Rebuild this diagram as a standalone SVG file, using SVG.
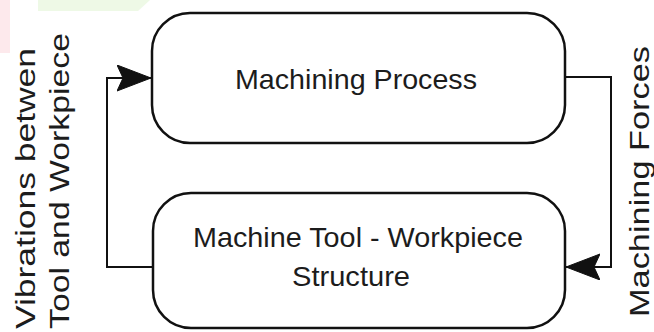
<svg xmlns="http://www.w3.org/2000/svg" width="654" height="332" viewBox="0 0 654 332">
<style>
.box{fill:#fff;stroke:#111;stroke-width:2.5}
.lbl{font-family:"Liberation Sans",Arial,sans-serif;font-size:28.5px;fill:#1c1c1c;text-anchor:middle}
.side{font-family:"Liberation Sans",Arial,sans-serif;font-size:27px;fill:#1c1c1c}
.conn{fill:none;stroke:#111;stroke-width:2}
</style>
<defs>
<marker id="arr" markerUnits="userSpaceOnUse" markerWidth="36" markerHeight="28" refX="34" refY="13" orient="auto" viewBox="0 0 36 28">
<path d="M0,0 L34,13 L0,26 L6,13 Z" fill="#111" stroke="#111" stroke-width="1" stroke-linejoin="round"/>
</marker>
</defs>
<rect width="654" height="332" fill="#fff"/>
<rect x="0" y="0" width="10" height="53" fill="#fde9ec"/>
<polygon points="38,0 150,0 138,11 38,11" fill="#eef9e6"/>
<g id="connectors">
<path class="conn" d="M153,267 H107 V78 H151" marker-end="url(#arr)"/>
<path class="conn" d="M565,77 H611 V267 H566" marker-end="url(#arr)"/>
</g>
<g id="machining-process">
<rect class="box" x="152" y="13" width="413" height="130" rx="38" ry="38"/>
<text class="lbl" x="356" y="89" textLength="242" lengthAdjust="spacingAndGlyphs">Machining Process</text>
</g>
<g id="machine-structure">
<rect class="box" x="153" y="193" width="412" height="135" rx="38" ry="38"/>
<text class="lbl" x="358" y="247" textLength="330" lengthAdjust="spacingAndGlyphs">Machine Tool - Workpiece</text>
<text class="lbl" x="351" y="286" textLength="118" lengthAdjust="spacingAndGlyphs">Structure</text>
</g>
<g id="side-labels">
<text class="side" transform="translate(35,329) rotate(-90)" textLength="281" lengthAdjust="spacingAndGlyphs">Vibrations betwen</text>
<text class="side" transform="translate(69,329) rotate(-90)" textLength="296" lengthAdjust="spacingAndGlyphs">Tool and Workpiece</text>
<text class="side" transform="translate(649,317) rotate(-90)" textLength="271" lengthAdjust="spacingAndGlyphs">Machining Forces</text>
</g>
</svg>
